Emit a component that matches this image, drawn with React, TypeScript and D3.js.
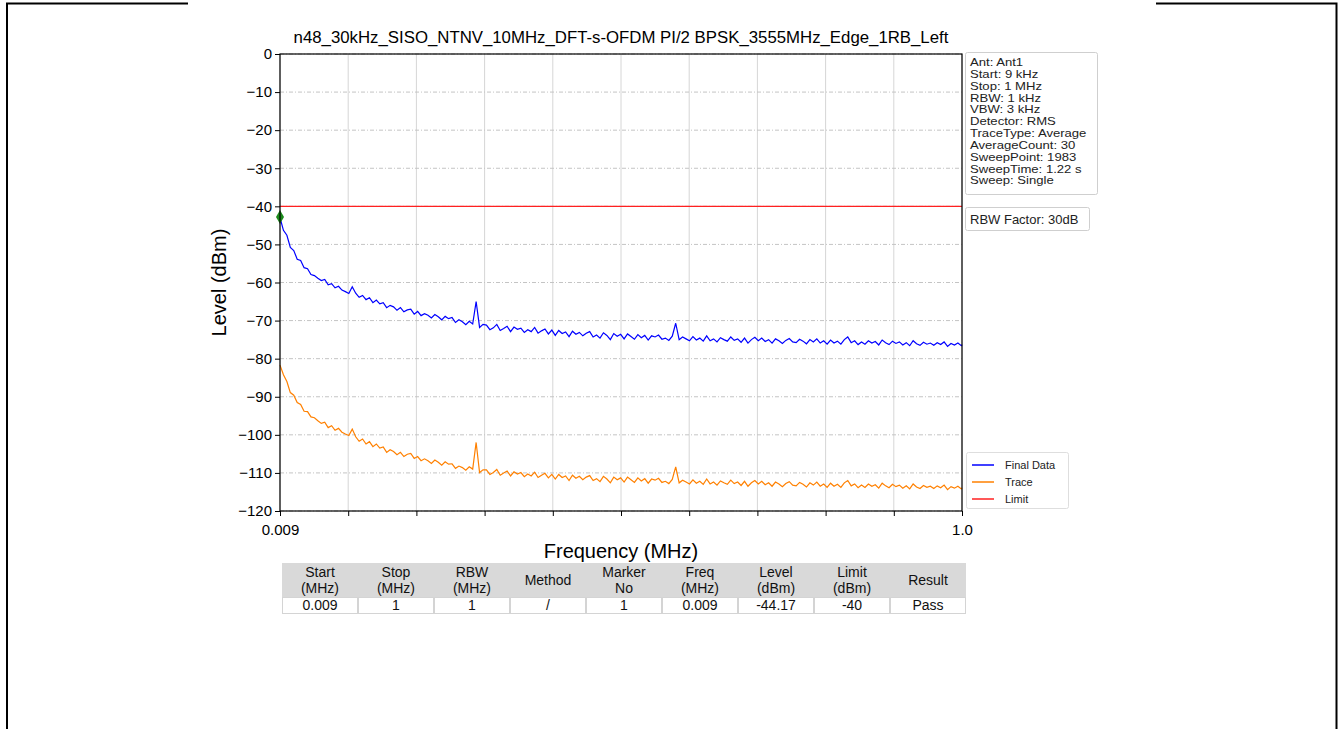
import { useEffect, useRef } from 'react';
import * as d3 from 'd3';

// sweep frequencies (MHz), resampled from the trace
const FREQ_MHZ = [
  0.009, 0.014, 0.019, 0.024, 0.029, 0.034, 0.039, 0.044, 0.049, 0.054,
  0.059, 0.064, 0.069, 0.074, 0.079, 0.084, 0.089, 0.094, 0.099, 0.104,
  0.109, 0.114, 0.119, 0.124, 0.129, 0.134, 0.139, 0.144, 0.149, 0.154,
  0.159, 0.164, 0.169, 0.174, 0.179, 0.184, 0.189, 0.194, 0.199, 0.204,
  0.209, 0.214, 0.219, 0.224, 0.229, 0.234, 0.239, 0.244, 0.249, 0.254,
  0.259, 0.264, 0.269, 0.274, 0.279, 0.284, 0.289, 0.294, 0.299, 0.304,
  0.309, 0.314, 0.319, 0.324, 0.329, 0.334, 0.339, 0.344, 0.349, 0.354,
  0.359, 0.364, 0.369, 0.374, 0.379, 0.384, 0.389, 0.394, 0.399, 0.404,
  0.409, 0.414, 0.419, 0.424, 0.429, 0.434, 0.439, 0.444, 0.449, 0.454,
  0.459, 0.464, 0.469, 0.474, 0.479, 0.484, 0.489, 0.494, 0.499, 0.504,
  0.509, 0.514, 0.519, 0.524, 0.529, 0.534, 0.539, 0.544, 0.549, 0.554,
  0.559, 0.564, 0.569, 0.574, 0.579, 0.584, 0.589, 0.594, 0.599, 0.604,
  0.609, 0.614, 0.619, 0.624, 0.629, 0.634, 0.639, 0.644, 0.649, 0.654,
  0.659, 0.664, 0.669, 0.674, 0.679, 0.684, 0.689, 0.694, 0.699, 0.704,
  0.709, 0.714, 0.719, 0.724, 0.729, 0.734, 0.739, 0.744, 0.749, 0.754,
  0.759, 0.764, 0.769, 0.774, 0.779, 0.784, 0.789, 0.794, 0.799, 0.804,
  0.809, 0.814, 0.819, 0.824, 0.829, 0.834, 0.839, 0.844, 0.849, 0.854,
  0.859, 0.864, 0.869, 0.874, 0.879, 0.884, 0.889, 0.894, 0.899, 0.904,
  0.909, 0.914, 0.919, 0.924, 0.929, 0.934, 0.939, 0.944, 0.949, 0.954,
  0.959, 0.964, 0.969, 0.974, 0.979, 0.984, 0.989, 0.994, 0.999, 1.0,
];

const FINAL_DATA = [
  -43.0, -46.3, -47.6, -50.8, -51.6, -53.9, -54.2, -56.1, -56.4, -57.9,
  -58.2, -58.9, -59.5, -59.2, -60.6, -60.3, -61.4, -61.0, -62.0, -62.4,
  -62.9, -61.1, -62.8, -63.9, -63.4, -64.5, -64.0, -65.3, -64.6, -65.6,
  -65.3, -66.6, -66.0, -66.4, -67.3, -66.6, -67.7, -67.2, -67.0, -68.3,
  -67.6, -68.7, -68.2, -68.6, -69.3, -68.4, -69.0, -69.8, -68.9, -69.5,
  -69.2, -70.5, -69.8, -70.3, -71.1, -70.2, -70.9, -65.0, -71.8, -71.0,
  -71.2, -72.4, -71.9, -71.0, -72.6, -72.1, -71.5, -72.9, -71.7, -72.3,
  -72.0, -73.1, -72.4, -72.9, -71.8, -73.3, -72.7, -72.2, -73.5, -72.5,
  -73.9, -72.6, -73.4, -73.0, -74.2, -72.8, -73.6, -73.1, -74.0, -73.3,
  -72.9, -74.3, -73.8, -74.6, -73.2, -73.9, -75.0, -73.4, -74.1, -73.6,
  -74.8, -73.5, -74.2, -74.9, -73.7, -74.5, -73.9, -75.1, -74.0, -74.3,
  -73.8, -74.9, -74.6, -75.2, -74.1, -70.7, -75.0, -74.3, -74.8, -75.3,
  -74.2, -75.1, -74.6, -75.4, -74.0, -75.3, -74.8, -75.6, -74.5, -75.0,
  -75.4, -74.3, -75.2, -74.8, -75.7, -74.6, -75.9, -75.0, -74.4, -75.3,
  -74.6, -75.5, -75.0, -75.9, -74.8, -75.3, -76.0, -75.2, -74.7, -75.6,
  -75.8, -74.9, -75.4, -76.1, -75.0, -75.6, -74.8, -75.9, -75.3, -76.2,
  -75.1, -75.9, -75.4, -76.2, -75.0, -74.3, -75.8, -75.3, -76.3, -75.6,
  -76.2, -75.3, -75.9, -75.5, -76.4, -75.1, -75.8, -76.3, -75.4, -76.0,
  -75.6, -76.4, -75.8, -76.6, -75.3, -76.1, -76.5, -75.7, -76.2, -75.9,
  -76.5, -75.8, -76.3, -75.6, -76.8, -76.0, -76.4, -75.9, -76.6, -76.3,
];

const TRACE = [
  -81.7, -84.2, -86.0, -88.9, -89.6, -91.5, -92.0, -93.8, -93.9, -95.3,
  -95.5, -96.3, -97.0, -96.7, -98.1, -97.6, -98.8, -98.3, -99.3, -99.8,
  -100.2, -98.5, -100.5, -101.7, -101.1, -102.4, -101.8, -103.1, -102.4, -103.5,
  -103.2, -104.6, -103.9, -104.4, -105.2, -104.6, -105.7, -105.1, -104.9, -106.2,
  -105.7, -106.8, -106.3, -106.8, -107.5, -106.6, -107.2, -108.0, -107.1, -107.7,
  -107.6, -108.8, -108.2, -108.6, -109.3, -108.4, -109.0, -102.0, -109.9, -109.2,
  -109.2, -110.4, -109.9, -109.1, -110.6, -110.0, -109.5, -110.8, -109.7, -110.3,
  -109.9, -111.0, -110.3, -110.8, -109.8, -111.2, -110.6, -110.1, -111.3, -110.4,
  -111.6, -110.4, -111.2, -110.8, -112.0, -110.6, -111.4, -110.9, -111.8, -111.1,
  -110.7, -112.0, -111.5, -112.3, -110.9, -111.6, -112.6, -111.1, -111.8, -111.3,
  -112.4, -111.1, -111.8, -112.5, -111.3, -112.1, -111.5, -112.7, -111.6, -111.9,
  -111.4, -112.5, -112.2, -112.8, -111.7, -108.4, -112.6, -111.9, -112.4, -112.9,
  -111.8, -112.7, -112.2, -113.0, -111.6, -112.9, -112.4, -113.2, -112.1, -112.6,
  -113.0, -111.9, -112.8, -112.4, -113.3, -112.2, -113.5, -112.6, -112.0, -112.9,
  -112.2, -113.1, -112.6, -113.5, -112.4, -112.9, -113.6, -112.8, -112.3, -113.2,
  -113.4, -112.5, -113.0, -113.7, -112.6, -113.2, -112.4, -113.5, -112.9, -113.8,
  -112.7, -113.5, -113.0, -113.8, -112.6, -112.0, -113.4, -112.9, -113.9, -113.2,
  -113.8, -112.9, -113.5, -113.1, -114.0, -112.7, -113.4, -113.9, -113.0, -113.6,
  -113.2, -114.0, -113.4, -114.2, -112.9, -113.7, -114.1, -113.3, -113.8, -113.5,
  -114.1, -113.4, -113.9, -113.2, -114.4, -113.6, -114.0, -113.5, -114.2, -113.9,
];

const LIMIT_DBM = -40;
const MARKER_FREQ = [0.009];
const MARKER_LEVEL = [-42.8];

const TITLE = 'n48_30kHz_SISO_NTNV_10MHz_DFT-s-OFDM PI/2 BPSK_3555MHz_Edge_1RB_Left';
const Y_TICKS = [0, -10, -20, -30, -40, -50, -60, -70, -80, -90, -100, -110, -120];
const X_TICK_LABELS = ['0.009', '', '', '', '', '', '', '', '', '', '1.0'];

const INFO_LINES = [
  'Ant: Ant1',
  'Start: 9 kHz',
  'Stop: 1 MHz',
  'RBW: 1 kHz',
  'VBW: 3 kHz',
  'Detector: RMS',
  'TraceType: Average',
  'AverageCount: 30',
  'SweepPoint: 1983',
  'SweepTime: 1.22 s',
  'Sweep: Single',
];
const RBW_FACTOR = 'RBW Factor: 30dB';

const LEGEND_LABELS = ['Final Data', 'Trace', 'Limit'];
const LEGEND_COLORS = ['#0000ff', '#ff8000', '#ff2020'];

const TABLE_HEADERS = [
  ['Start', '(MHz)'], ['Stop', '(MHz)'], ['RBW', '(MHz)'], ['Method'], ['Marker', 'No'],
  ['Freq', '(MHz)'], ['Level', '(dBm)'], ['Limit', '(dBm)'], ['Result'],
];
const TABLE_ROW = ['0.009', '1', '1', '/', '1', '0.009', '-44.17', '-40', 'Pass'];

const FONT = '"Liberation Sans", Arial, sans-serif';

export default function App() {
  const svgRef = useRef<SVGSVGElement>(null);

  useEffect(() => {
    const svg = d3.select(svgRef.current);
    svg.selectAll('*').remove();

    const W = 1338, H = 729;
    svg.attr('width', W).attr('height', H).attr('font-family', FONT);

    svg.append('rect').attr('width', W).attr('height', H).attr('fill', 'white');

    // page frame (partly hidden behind the pasted chart)
    const frame = svg.append('g').attr('stroke', '#000').attr('stroke-width', 2).attr('fill', 'none');
    frame.append('path').attr('d', `M7,${H} V3.5 H188`);
    frame.append('path').attr('d', `M1156,3.5 H1336.5 V${H}`);

    const plot = { left: 280, right: 962, top: 54, bottom: 511 };

    const x = d3.scaleLinear().domain([0.009, 1.0]).range([plot.left, plot.right]);
    const y = d3.scaleLinear().domain([-120, 0]).range([plot.bottom, plot.top]);

    const xTickValues = X_TICK_LABELS.map((_, i) => 0.009 + (i * (1.0 - 0.009)) / (X_TICK_LABELS.length - 1));

    // Grid
    const grid = svg.append('g');
    xTickValues.forEach(v => {
      grid.append('line')
        .attr('x1', x(v)).attr('x2', x(v))
        .attr('y1', plot.top).attr('y2', plot.bottom)
        .attr('stroke', '#d6d6d6').attr('stroke-width', 1);
    });
    Y_TICKS.forEach(v => {
      grid.append('line')
        .attr('x1', plot.left).attr('x2', plot.right)
        .attr('y1', y(v)).attr('y2', y(v))
        .attr('stroke', '#c4c4c4').attr('stroke-width', 1)
        .attr('stroke-dasharray', '4,2,1,2');
    });

    // Limit
    svg.append('line')
      .attr('x1', x(0.009)).attr('x2', x(1.0))
      .attr('y1', y(LIMIT_DBM)).attr('y2', y(LIMIT_DBM))
      .attr('stroke', LEGEND_COLORS[2]).attr('stroke-width', 1.3);

    const line = d3.line<number>()
      .x((_, i) => x(FREQ_MHZ[i]))
      .y(d => y(d));

    svg.append('path')
      .datum(TRACE)
      .attr('d', line)
      .attr('fill', 'none')
      .attr('stroke', LEGEND_COLORS[1])
      .attr('stroke-width', 1.2);

    svg.append('path')
      .datum(FINAL_DATA)
      .attr('d', line)
      .attr('fill', 'none')
      .attr('stroke', LEGEND_COLORS[0])
      .attr('stroke-width', 1.2);

    // Marker
    MARKER_FREQ.forEach((f, i) => {
      svg.append('path')
        .attr('d', d3.symbol(d3.symbolDiamond, 55)())
        .attr('transform', `translate(${x(f)},${y(MARKER_LEVEL[i])})`)
        .attr('fill', '#1b8a1b');
    });

    // Frame
    svg.append('rect')
      .attr('x', plot.left).attr('y', plot.top)
      .attr('width', plot.right - plot.left).attr('height', plot.bottom - plot.top)
      .attr('fill', 'none').attr('stroke', '#000').attr('stroke-width', 1.2);

    // Axes
    svg.append('g')
      .attr('transform', `translate(0,${plot.bottom})`)
      .call(
        d3.axisBottom(x)
          .tickValues(xTickValues)
          .tickFormat((_, i) => X_TICK_LABELS[i])
          .tickSize(5).tickSizeOuter(0).tickPadding(8)
      )
      .call(ax => ax.select('.domain').remove())
      .call(ax => ax.selectAll('line').attr('stroke', '#000'))
      .call(ax => ax.selectAll('text').attr('font-size', 15).attr('font-family', FONT).attr('fill', '#000'));

    svg.append('g')
      .attr('transform', `translate(${plot.left},0)`)
      .call(
        d3.axisLeft(y)
          .tickValues(Y_TICKS)
          .tickFormat(d => (d as number) < 0 ? `\u2212${Math.abs(d as number)}` : `${d}`)
          .tickSize(5).tickSizeOuter(0).tickPadding(3)
      )
      .call(ax => ax.select('.domain').remove())
      .call(ax => ax.selectAll('line').attr('stroke', '#000'))
      .call(ax => ax.selectAll('text').attr('font-size', 15).attr('font-family', FONT).attr('fill', '#000'));

    // Titles
    svg.append('text')
      .attr('x', (plot.left + plot.right) / 2).attr('y', 43)
      .attr('text-anchor', 'middle').attr('font-size', 16.8)
      .text(TITLE);

    svg.append('text')
      .attr('x', (plot.left + plot.right) / 2).attr('y', 558)
      .attr('text-anchor', 'middle').attr('font-size', 20)
      .text('Frequency (MHz)');

    svg.append('text')
      .attr('transform', `translate(226,${(plot.top + plot.bottom) / 2}) rotate(-90)`)
      .attr('text-anchor', 'middle').attr('font-size', 20)
      .text('Level (dBm)');

    // Info box (text is drawn slightly wide, as in the source image)
    const info = svg.append('g');
    info.append('rect')
      .attr('x', 965.5).attr('y', 52.5).attr('width', 132).attr('height', 142).attr('rx', 2)
      .attr('fill', 'white').attr('stroke', '#cfcfcf');
    const infoText = info.append('g').attr('transform', 'translate(970,0) scale(1.16,1)');
    INFO_LINES.forEach((t, i) => {
      infoText.append('text')
        .attr('x', 0).attr('y', 66 + i * 11.85)
        .attr('font-size', 11.3).attr('fill', '#222')
        .text(t);
    });
    info.append('rect')
      .attr('x', 965.5).attr('y', 207.5).attr('width', 124).attr('height', 23).attr('rx', 2)
      .attr('fill', 'white').attr('stroke', '#cfcfcf');
    info.append('text')
      .attr('x', 970).attr('y', 224)
      .attr('font-size', 13).attr('fill', '#222')
      .text(RBW_FACTOR);

    // Legend
    const legend = svg.append('g');
    legend.append('rect')
      .attr('x', 966.5).attr('y', 452.5).attr('width', 102).attr('height', 56).attr('rx', 2)
      .attr('fill', 'white').attr('stroke', '#dedede');
    LEGEND_LABELS.forEach((label, i) => {
      const cy = 465 + i * 17;
      legend.append('line')
        .attr('x1', 972).attr('x2', 994).attr('y1', cy).attr('y2', cy)
        .attr('stroke', LEGEND_COLORS[i]).attr('stroke-width', 1.5);
      legend.append('text')
        .attr('x', 1005).attr('y', cy + 4)
        .attr('font-size', 11).attr('fill', '#222')
        .text(label);
    });

    // Result table
    const table = svg.append('g');
    const tLeft = 282, tRight = 966;
    const colW = (tRight - tLeft) / TABLE_HEADERS.length;
    const hTop = 563, hBottom = 597, rBottom = 614;
    table.append('rect')
      .attr('x', tLeft).attr('y', hTop).attr('width', tRight - tLeft).attr('height', hBottom - hTop)
      .attr('fill', '#d9d9d9');
    TABLE_HEADERS.forEach((lines, i) => {
      const cx = tLeft + colW * (i + 0.5);
      const midY = (hTop + hBottom) / 2;
      lines.forEach((t, j) => {
        table.append('text')
          .attr('x', cx)
          .attr('y', midY + 5 + (j - (lines.length - 1) / 2) * 16)
          .attr('text-anchor', 'middle').attr('font-size', 14).attr('fill', '#111')
          .text(t);
      });
      table.append('rect')
        .attr('x', tLeft + colW * i + 0.5).attr('y', hBottom + 0.5)
        .attr('width', colW - 1).attr('height', rBottom - hBottom - 1)
        .attr('fill', 'white').attr('stroke', '#d4d4d4');
      table.append('text')
        .attr('x', cx).attr('y', rBottom - 4)
        .attr('text-anchor', 'middle').attr('font-size', 14).attr('fill', '#111')
        .text(TABLE_ROW[i]);
    });
  }, []);

  return (
    <svg
      ref={svgRef}
      style={{ position: 'absolute', left: 0, top: 0, display: 'block' }}
      role="img"
      aria-label="Spectrum plot: level versus frequency"
    />
  );
}
